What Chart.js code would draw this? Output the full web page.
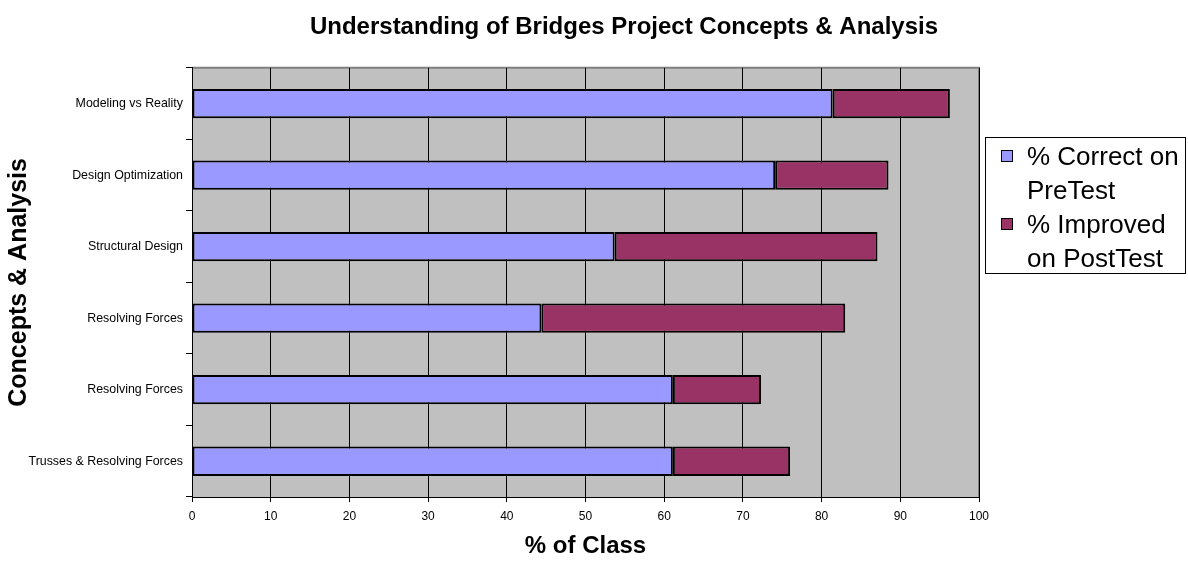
<!DOCTYPE html>
<html>
<head>
<meta charset="utf-8">
<script src="https://cdn.jsdelivr.net/npm/chart.js@4"></script>
<style>
  body { margin: 0; background: #fff; }
  #wrap { position: relative; width: 1188px; height: 561px; }
  #leyenda {
    position: absolute; left: 985px; top: 137px; width: 199px; height: 135px;
    border: 1px solid #000; background: #fff;
    font-family: Arial, "Liberation Sans", sans-serif; font-size: 26px; line-height: 34px;
    color: #000; white-space: nowrap;
  }
  .fila { position: absolute; left: 15px; }
  .cuadro { display: inline-block; width: 10px; height: 10px; border: 1px solid #000; margin-right: 14px; vertical-align: 3px; }
  .sangria { padding-left: 26px; }
</style>
</head>
<body>
<div id="wrap">
  <canvas id="grafico_barras" width="1188" height="561"></canvas>
  <div id="leyenda">
    <div class="fila" style="top:1px"><span class="cuadro" style="background:#9999FF"></span>% Correct on<br><span class="sangria">PreTest</span></div>
    <div class="fila" style="top:69px"><span class="cuadro" style="background:#993366"></span>% Improved<br><span class="sangria">on PostTest</span></div>
  </div>
</div>
<script>
// datos
const conceptos = ['Modeling vs Reality', 'Design Optimization', 'Structural Design', 'Resolving Forces', 'Resolving Forces', 'Trusses & Resolving Forces'];
const correctoPreTest = [81.4, 74.1, 53.7, 44.4, 61.1, 61.1];
const mejoraPostTest = [14.9, 14.4, 33.4, 38.6, 11.2, 14.9];
const ticksX = [0, 10, 20, 30, 40, 50, 60, 70, 80, 90, 100];

// fondo gris del area del grafico con borde gris
const fondoGris = {
    id: 'fondoGris',
    afterLayout(chart) {
        // el titulo va centrado sobre el grafico + leyenda, no sobre el canvas
        if (chart.titleBlock) {
            chart.titleBlock.left = 60;
            chart.titleBlock.right = 1188;
        }
    },
    beforeDraw(chart) {
        const { ctx, chartArea: a } = chart;
        ctx.save();
        ctx.fillStyle = '#C0C0C0';
        ctx.fillRect(a.left, a.top, a.right - a.left, a.bottom - a.top);
        ctx.strokeStyle = '#808080';
        ctx.lineWidth = 2;
        ctx.beginPath();
        ctx.moveTo(a.left, a.top);
        ctx.lineTo(a.right, a.top);
        ctx.lineTo(a.right, a.bottom);
        ctx.stroke();
        ctx.restore();
    }
};

Chart.defaults.font.family = 'Arial, "Liberation Sans", sans-serif';
Chart.defaults.color = '#000';

const ctx = document.getElementById('grafico_barras');
const graficoBarras = new Chart(ctx, {
    type: 'bar',
    data: {
        labels: conceptos,
        datasets: [{
            label: '% Correct on PreTest',
            data: correctoPreTest,
            backgroundColor: '#9999FF',
            borderColor: '#000',
            borderWidth: 2,
            borderSkipped: false
        }, {
            label: '% Improved on PostTest',
            data: mejoraPostTest,
            backgroundColor: '#993366',
            borderColor: '#000',
            borderWidth: 2,
            borderSkipped: false
        }]
    },
    options: {
        indexAxis: 'y',
        responsive: false,
        animation: false,
        datasets: { bar: { categoryPercentage: 1, barPercentage: 0.41 } },
        layout: { padding: { left: 0, right: 209, top: 0, bottom: 0 } },
        plugins: {
            legend: { display: false },
            tooltip: { enabled: false },
            title: {
                display: true,
                text: 'Understanding of Bridges Project Concepts & Analysis',
                font: { size: 24, weight: 'bold' },
                padding: { top: 13, bottom: 26 }
            }
        },
        scales: {
            x: {
                stacked: true,
                min: 0,
                max: 100,
                afterBuildTicks: (s) => { s.ticks = ticksX.map(v => ({ value: v })); },
                afterFit: (s) => { s.height = 64; },
                border: { color: '#000', width: 1 },
                grid: { color: '#000', lineWidth: 1, tickLength: 5 },
                ticks: { font: { size: 12 }, padding: 7 },
                title: {
                    display: true,
                    text: '% of Class',
                    font: { size: 24, weight: 'bold' },
                    padding: { top: 0, bottom: 0 }
                }
            },
            y: {
                stacked: true,
                afterFit: (s) => { s.width = 192; },
                border: { color: '#000', width: 1 },
                grid: { drawOnChartArea: false, color: '#000', tickLength: 6 },
                ticks: { font: { size: 12.4 }, padding: 3 },
                title: {
                    display: true,
                    text: 'Concepts & Analysis',
                    font: { size: 25, weight: 'bold' },
                    padding: { top: 4, bottom: 0 }
                }
            }
        }
    },
    plugins: [fondoGris]
});
</script>
</body>
</html>
